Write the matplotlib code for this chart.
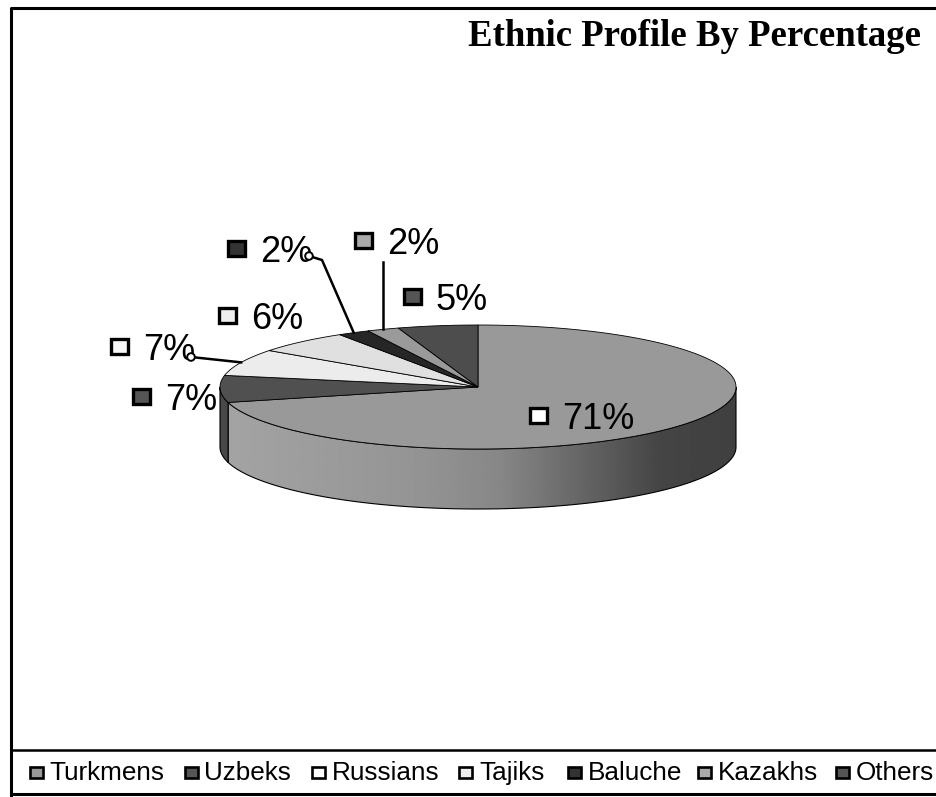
import numpy as np
import matplotlib.pyplot as plt
from matplotlib.patches import Polygon, Rectangle, Circle

# data
categories = ['Turkmens', 'Uzbeks', 'Russians', 'Tajiks', 'Baluche', 'Kazakhs', 'Others']
shares = [71, 7, 7, 6, 2, 2, 5]
title = 'Ethnic Profile By Percentage'

# styles
top_colors = ['#999999', '#505050', '#ececec', '#e0e0e0', '#262626', '#9a9a9a', '#4d4d4d']
label_key_colors = ['#ffffff', '#555555', '#f8f8f8', '#eeeeee', '#333333', '#aaaaaa', '#555555']
legend_key_colors = ['#999999', '#555555', '#ffffff', '#eeeeee', '#333333', '#aaaaaa', '#555555']

# layout (pixels)
cx, cy, rx, ry, depth = 478, 387, 258, 62, 60
label_pos = [(539, 415), (142, 396), (120, 346), (228, 315), (237, 248), (364, 240), (413, 296)]
legend_x = [36.5, 191.5, 318.5, 466, 574.5, 704.5, 843]
legend_y = 772

fig = plt.figure(figsize=(9.37, 7.97), dpi=100)
ax = fig.add_axes([0, 0, 1, 1])
ax.set_xlim(0, 937)
ax.set_ylim(797, 0)
ax.axis('off')


def ell(t, dy=0.0):
    t = np.radians(np.asarray(t, dtype=float))
    return np.column_stack([cx + rx * np.sin(t), cy - ry * np.cos(t) + dy])


edges = np.concatenate([[0], np.cumsum(shares)]) / sum(shares) * 360.0

# side walls (front half only)
for i in range(len(shares)):
    s0, s1 = max(edges[i], 90), min(edges[i + 1], 270)
    if s1 <= s0:
        continue
    ts = np.linspace(s0, s1, 200)
    pts = np.vstack([ell(ts), ell(ts[::-1], depth)])
    if i == 0:
        poly = Polygon(pts, closed=True, facecolor='none', edgecolor='black', lw=0.8, zorder=2)
        ax.add_patch(poly)
        gx = np.linspace(cx - rx, cx + rx, 400)
        gv = np.interp(gx, [228, 420, 500, 600, 660, 736], [0.64, 0.58, 0.53, 0.37, 0.27, 0.25])
        im = ax.imshow(gv[None, :], cmap='gray', vmin=0, vmax=1, aspect='auto',
                       extent=[cx - rx, cx + rx, cy + ry + depth + 2, cy - 5], zorder=1,
                       interpolation='bilinear')
        im.set_clip_path(poly)
    else:
        ax.add_patch(Polygon(pts, closed=True, facecolor='#484848', edgecolor='black',
                             lw=0.8, zorder=2))

# top face
for i in range(len(shares)):
    ts = np.linspace(edges[i], edges[i + 1], 300)
    pts = np.vstack([[cx, cy], ell(ts)])
    ax.add_patch(Polygon(pts, closed=True, facecolor=top_colors[i], edgecolor='black',
                         lw=0.6, zorder=3))

# leader lines
mid = (edges[:-1] + edges[1:]) / 2
p_rus = ell(mid[2])[0]
p_bal = ell(mid[4])[0]
p_kaz = ell(mid[5])[0]
ax.plot([191, p_rus[0]], [357, p_rus[1]], color='black', lw=1.8, zorder=4)
ax.add_patch(Circle((191, 357), 3.8, facecolor='white', edgecolor='black', lw=1.4, zorder=7))
ax.plot([309, 322, p_bal[0]], [256, 260, p_bal[1]], color='black', lw=1.8, zorder=4)
ax.add_patch(Circle((309, 256), 3.8, facecolor='white', edgecolor='black', lw=1.4, zorder=7))
ax.plot([p_kaz[0], p_kaz[0]], [262, p_kaz[1]], color='black', lw=1.8, zorder=4)

# data labels
for (x, y), v, c in zip(label_pos, shares, label_key_colors):
    ax.add_patch(Rectangle((x - 8.5, y - 7.5), 17, 15, facecolor=c, edgecolor='black',
                           lw=2.4, zorder=6))
    ax.text(x + 23, y + 14, f'{v}%', fontsize=26, family='Liberation Sans',
            ha='left', va='baseline', zorder=6)

# title
ax.text(921, 46, title, fontsize=26.5, family='Liberation Serif', fontweight='bold',
        ha='right', va='baseline')

# frame and legend box
ax.plot([11, 11, 945], [796, 8, 8], color='black', lw=2.2, clip_on=False)
ax.plot([11, 945], [750, 750], color='black', lw=1.8)
ax.plot([11, 945], [794, 794], color='black', lw=2.2)

for x, name, c in zip(legend_x, categories, legend_key_colors):
    ax.add_patch(Rectangle((x - 6.5, legend_y - 5.5), 13, 11, facecolor=c, edgecolor='black',
                           lw=1.9, zorder=6))
    ax.text(x + 13, legend_y + 8, name, fontsize=18.8, family='Liberation Sans',
            ha='left', va='baseline')

fig.savefig('out.png', dpi=100, facecolor='white')
